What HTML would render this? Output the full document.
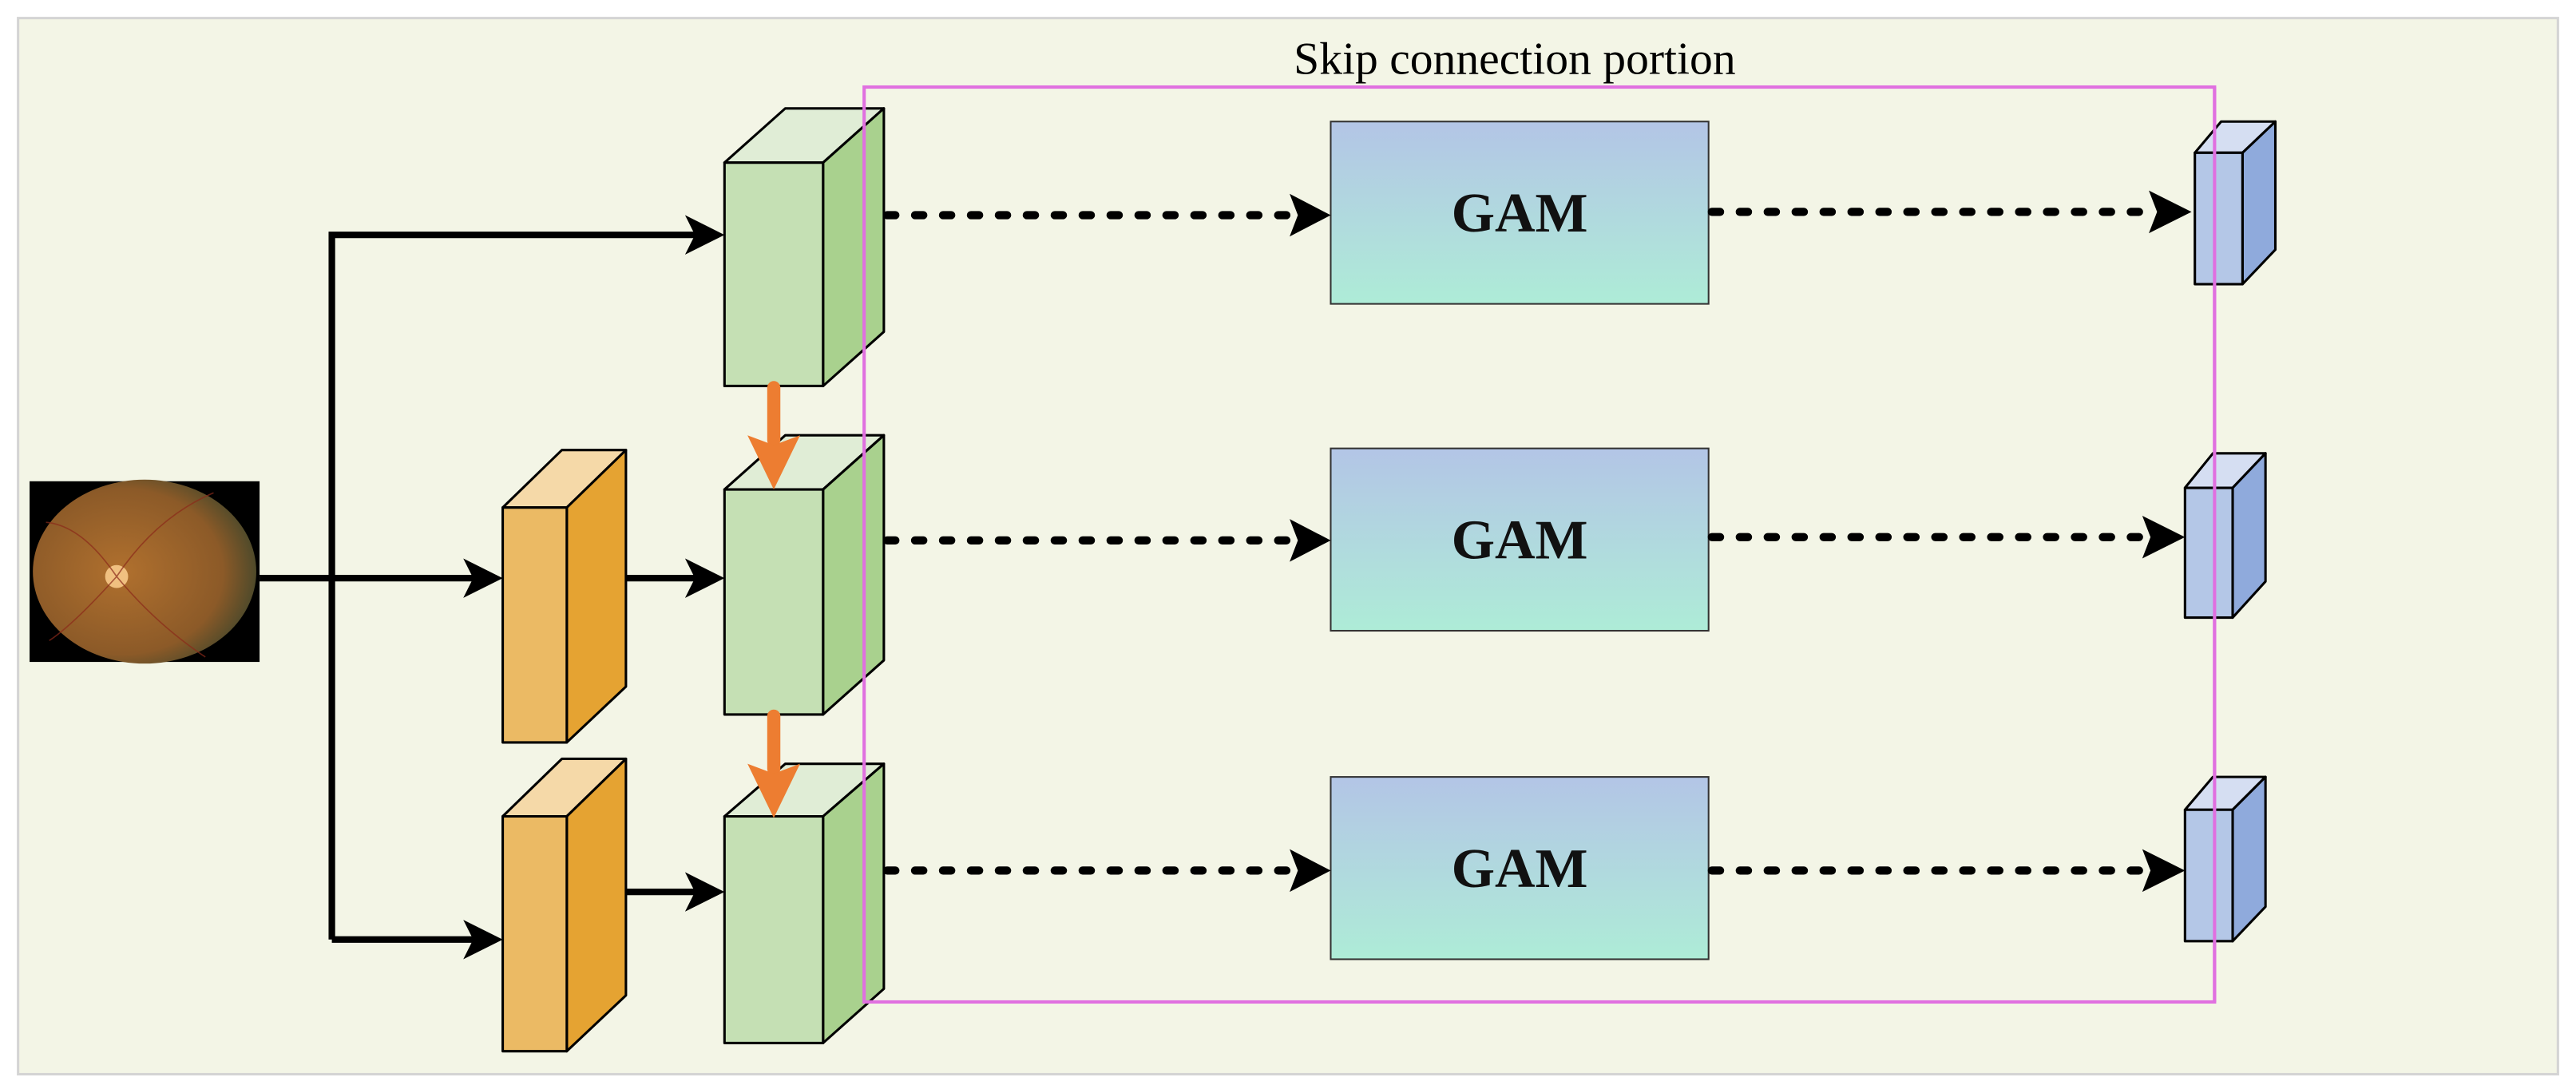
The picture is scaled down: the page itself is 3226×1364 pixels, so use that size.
<!DOCTYPE html>
<html><head><meta charset="utf-8"><style>html,body{margin:0;padding:0;background:#fff}svg{display:block}</style></head>
<body>
<svg width="3226" height="1364" viewBox="0 0 1568 663" preserveAspectRatio="none" xmlns="http://www.w3.org/2000/svg">
<defs>
<linearGradient id="gam" x1="0" y1="0" x2="0" y2="1"><stop offset="0" stop-color="#b3c5e6"/><stop offset="1" stop-color="#aeecd7"/></linearGradient>
<radialGradient id="eye" cx="0.4" cy="0.5" r="0.6"><stop offset="0" stop-color="#b0702e"/><stop offset="0.75" stop-color="#8c5a28"/><stop offset="1" stop-color="#4f4a2a"/></radialGradient>
<marker id="ah" markerWidth="6" markerHeight="6" refX="5" refY="3" orient="auto" markerUnits="strokeWidth"><path d="M0,0 L6,3 L0,6 L1.5,3 Z" fill="#000"/></marker>
</defs>
<rect x="11" y="11" width="1546" height="643" fill="#f3f5e6" stroke="#d4d4d4" stroke-width="1.5"/>
<!-- eye -->
<rect x="18" y="293" width="140" height="110" fill="#000"/>
<ellipse cx="88" cy="348" rx="68" ry="56" fill="url(#eye)"/>
<circle cx="71" cy="351" r="7" fill="#f0c080"/>
<g stroke="#8b2a1a" stroke-width="0.8" fill="none" opacity="0.7">
<path d="M71 351 Q95 315 130 300"/><path d="M71 351 Q95 380 125 400"/><path d="M71 351 Q50 320 28 318"/><path d="M71 351 Q45 380 30 390"/>
</g>
<!-- black connectors -->
<g stroke="#000" stroke-width="4" fill="none">
<path d="M202 572 L202 143 L437 143" marker-end="url(#ah)"/>
<path d="M158 352 L302 352" marker-end="url(#ah)"/>
<path d="M202 572 L302 572" marker-end="url(#ah)"/>
<path d="M381 352 L437 352" marker-end="url(#ah)"/>
<path d="M381 543 L437 543" marker-end="url(#ah)"/>
</g>
<!-- orange boxes -->
<g stroke="#000" stroke-width="1.5" stroke-linejoin="round">
<polygon points="306,309 342,274 381,274 345,309" fill="#f5d9a8"/>
<polygon points="345,309 381,274 381,418 345,452" fill="#e5a332"/>
<rect x="306" y="309" width="39" height="143" fill="#ebba64"/>
<polygon points="306,497 342,462 381,462 345,497" fill="#f5d9a8"/>
<polygon points="345,497 381,462 381,606 345,640" fill="#e5a332"/>
<rect x="306" y="497" width="39" height="143" fill="#ebba64"/>
</g>
<!-- green boxes -->
<g stroke="#000" stroke-width="1.5" stroke-linejoin="round">
<polygon points="441,99 478,66 538,66 501,99" fill="#e0edd6"/>
<polygon points="501,99 538,66 538,202 501,235" fill="#a9d18e"/>
<rect x="441" y="99" width="60" height="136" fill="#c5e0b4"/>
<polygon points="441,298 478,265 538,265 501,298" fill="#e0edd6"/>
<polygon points="501,298 538,265 538,402 501,435" fill="#a9d18e"/>
<rect x="441" y="298" width="60" height="137" fill="#c5e0b4"/>
<polygon points="441,497 478,465 538,465 501,497" fill="#e0edd6"/>
<polygon points="501,497 538,465 538,602 501,635" fill="#a9d18e"/>
<rect x="441" y="497" width="60" height="138" fill="#c5e0b4"/>
</g>
<!-- orange arrows -->
<g stroke="#ed7d31" stroke-width="8" stroke-linecap="round" fill="none">
<path d="M471 236 L471 268"/>
<path d="M471 436 L471 468"/>
</g>
<g fill="#ed7d31">
<path d="M455 265 L471 271 L487 265 L471 298 Z"/>
<path d="M455 465 L471 471 L487 465 L471 498 Z"/>
</g>
<!-- magenta -->
<rect x="526" y="53" width="822" height="557" fill="none" stroke="#e070e0" stroke-width="2"/>
<text x="922" y="45" text-anchor="middle" font-family="Liberation Serif, serif" font-size="28" fill="#000">Skip connection portion</text>
<!-- GAM -->
<g stroke="#333" stroke-width="1">
<rect x="810" y="74" width="230" height="111" fill="url(#gam)"/>
<rect x="810" y="273" width="230" height="111" fill="url(#gam)"/>
<rect x="810" y="473" width="230" height="111" fill="url(#gam)"/>
</g>
<g font-family="Liberation Serif, serif" font-weight="bold" font-size="34" text-anchor="middle" fill="#111">
<text x="925" y="141">GAM</text><text x="925" y="340">GAM</text><text x="925" y="540">GAM</text>
</g>
<!-- dotted arrows -->
<g stroke="#000" stroke-width="5" stroke-dasharray="5 12" stroke-linecap="round" fill="none">
<path d="M540 131 L785 131"/><path d="M540 329 L785 329"/><path d="M540 530 L785 530"/>
<path d="M1042 129 L1308 129"/><path d="M1042 327 L1304 327"/><path d="M1042 530 L1304 530"/>
</g>
<g fill="#000">
<path d="M785 118 L810 131 L785 144 L790 131 Z"/><path d="M785 316 L810 329 L785 342 L790 329 Z"/><path d="M785 517 L810 530 L785 543 L790 530 Z"/>
<path d="M1308 116 L1334 129 L1308 142 L1313 129 Z"/><path d="M1304 314 L1330 327 L1304 340 L1309 327 Z"/><path d="M1304 517 L1330 530 L1304 543 L1309 530 Z"/>
</g>
<!-- blue boxes -->
<g stroke="#000" stroke-width="1.5" stroke-linejoin="round">
<polygon points="1336,93 1352,74 1385,74 1365,93" fill="#d5def2"/>
<polygon points="1365,93 1385,74 1385,152 1365,173" fill="#8faadc"/>
<rect x="1336" y="93" width="29" height="80" fill="#b4c7e7"/>
<polygon points="1330,297 1347,276 1379,276 1359,297" fill="#d5def2"/>
<polygon points="1359,297 1379,276 1379,354 1359,376" fill="#8faadc"/>
<rect x="1330" y="297" width="29" height="79" fill="#b4c7e7"/>
<polygon points="1330,493 1347,473 1379,473 1359,493" fill="#d5def2"/>
<polygon points="1359,493 1379,473 1379,552 1359,573" fill="#8faadc"/>
<rect x="1330" y="493" width="29" height="80" fill="#b4c7e7"/>
</g>
<line x1="1348" y1="53" x2="1348" y2="610" stroke="#e070e0" stroke-width="2"/>
</svg>
</body></html>
